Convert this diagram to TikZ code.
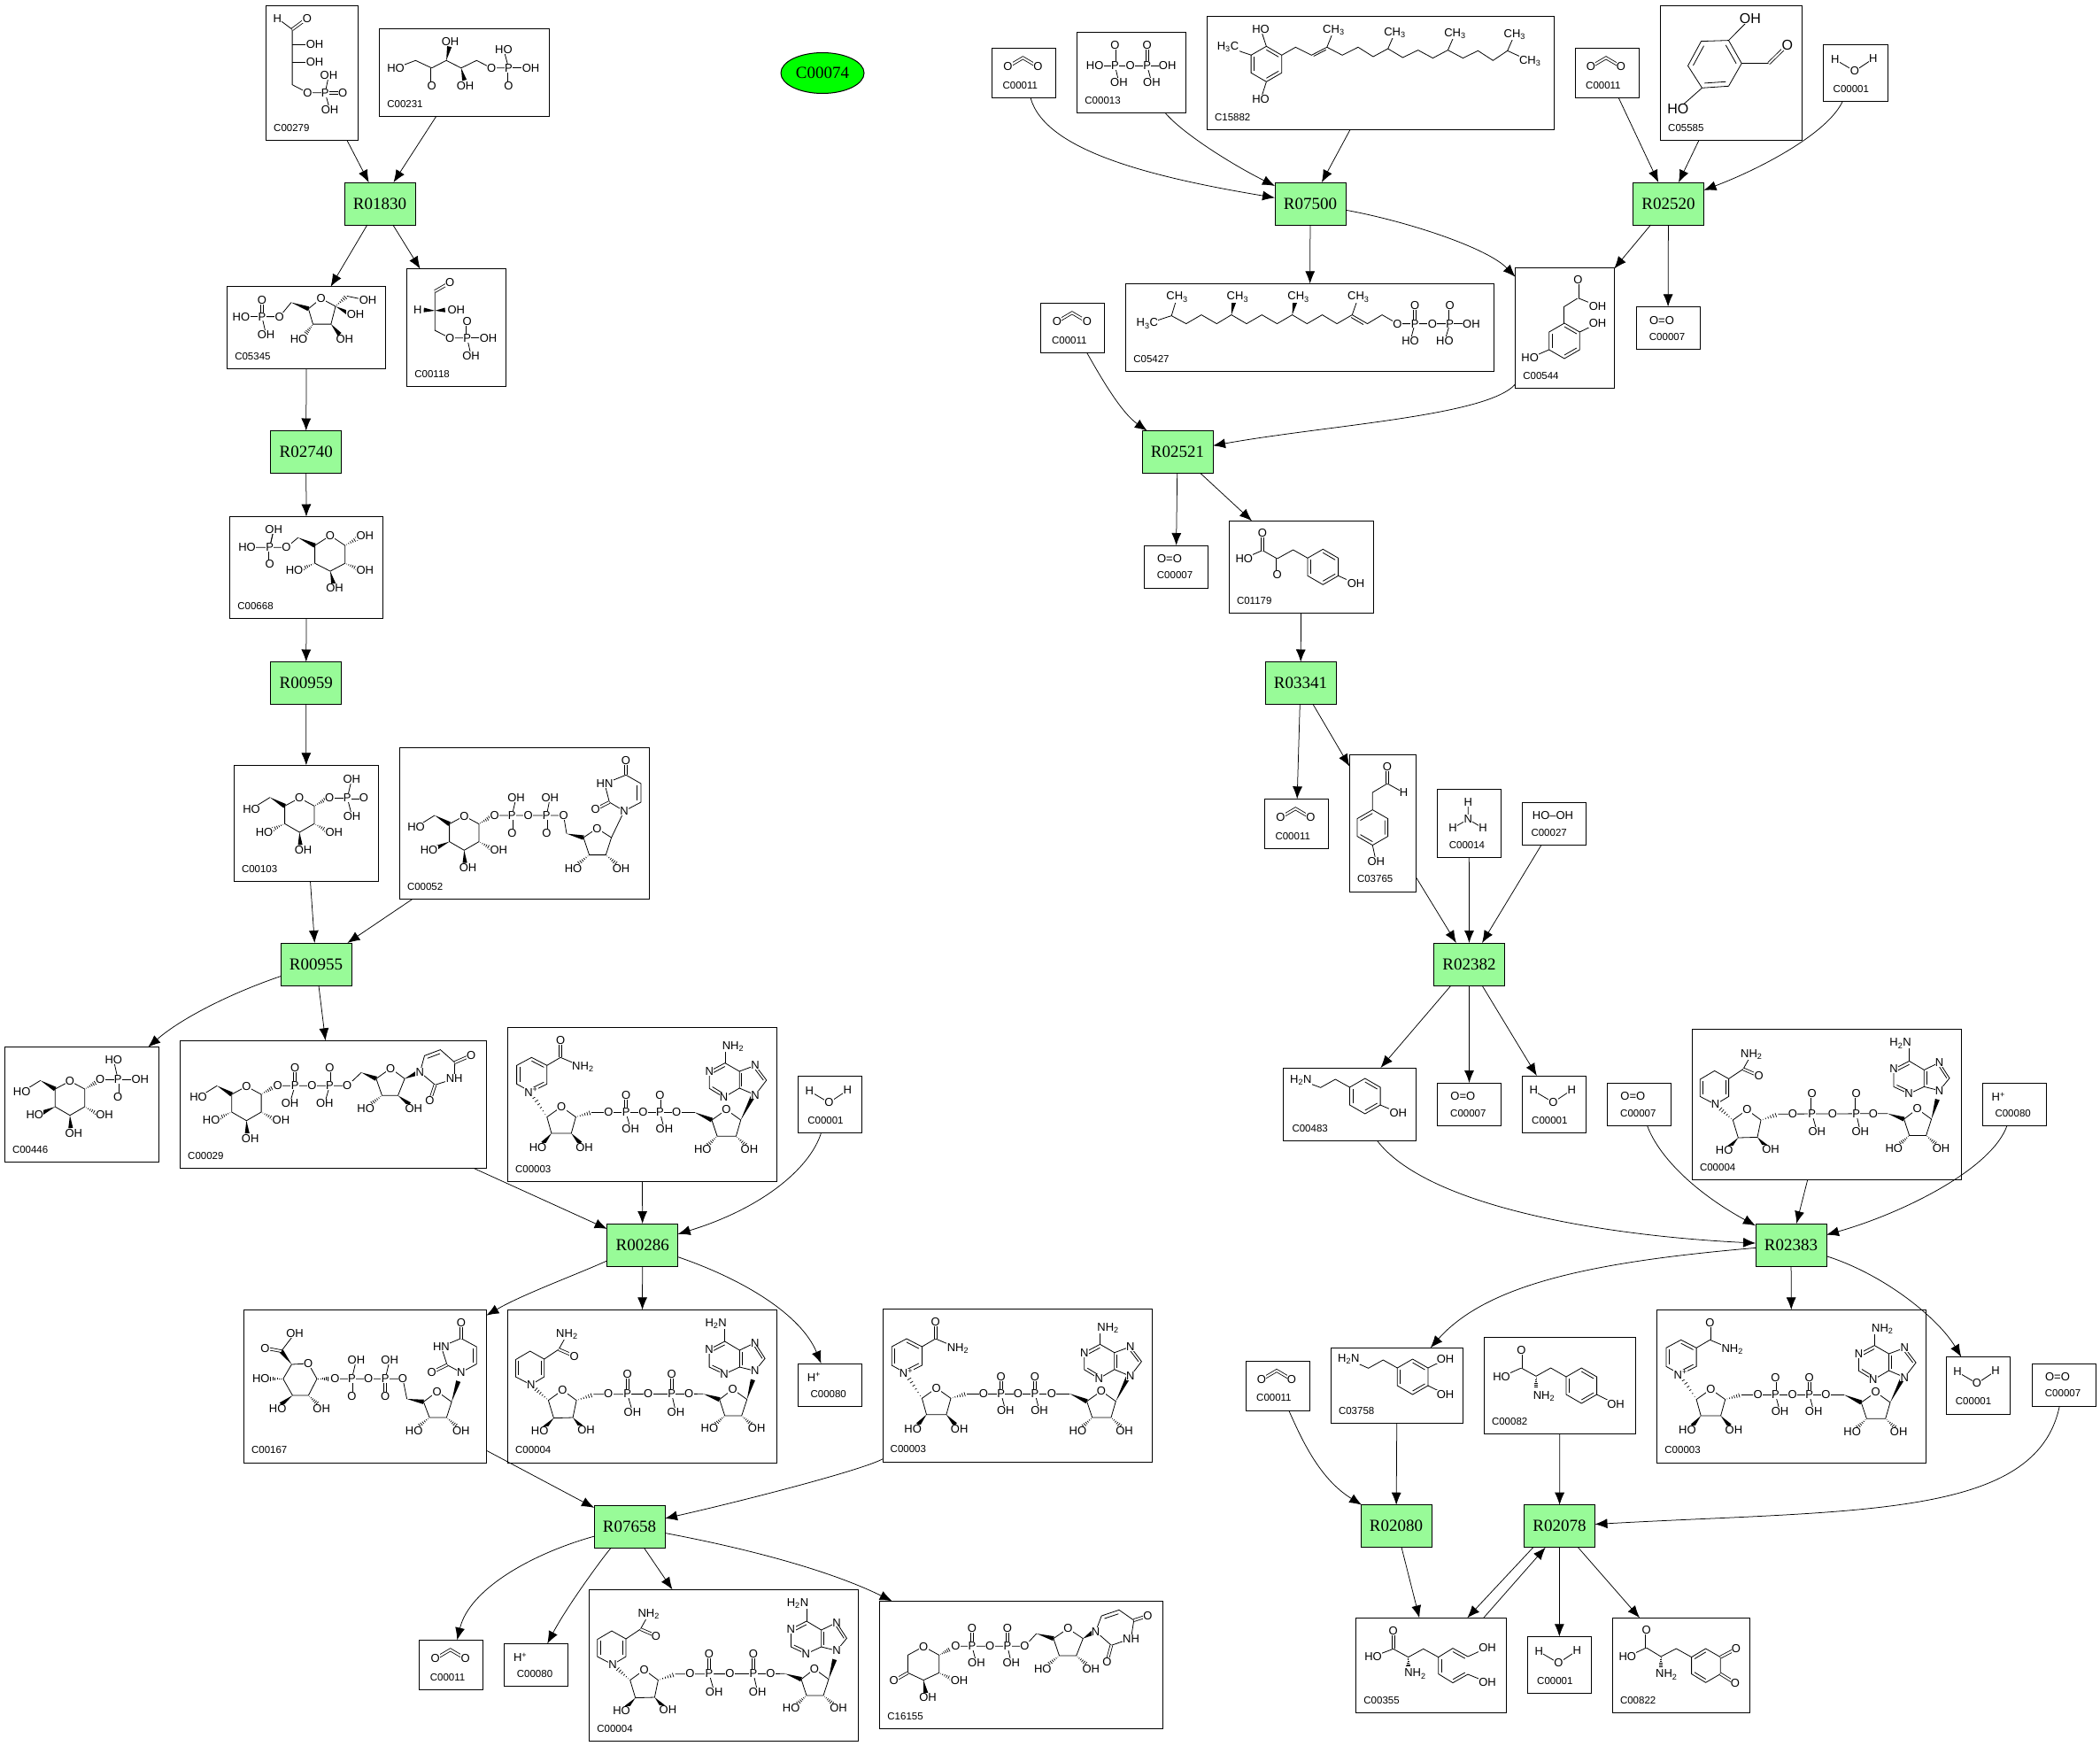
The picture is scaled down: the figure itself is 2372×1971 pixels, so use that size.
\documentclass[tikz,border=0pt]{standalone}
\usepackage{fontspec}
\setmainfont{Liberation Sans}
\newfontfamily\rfont{Liberation Serif}
\usetikzlibrary{arrows.meta,calc,shapes.geometric}
\definecolor{rgreen}{RGB}{152,251,152}
\definecolor{cgreen}{RGB}{0,255,0}
\newcounter{atm}
\newcommand{\lrg}{\fontsize{16}{16}\selectfont}
\tikzset{
  rnode/.style={draw,fill=rgreen,line width=1pt,outer sep=0pt,minimum width=80pt,minimum height=48pt,inner sep=0pt,font=\rfont\fontsize{19}{19}\selectfont},
  cpd/.style={draw,line width=1pt,outer sep=0pt,inner sep=0pt},
  cid/.style={anchor=west,inner sep=0pt,font=\fontsize{11.5}{12}\selectfont},
  atom/.style={fill=white,inner sep=0.4pt,font=\fontsize{13}{13}\selectfont},
  bond/.style={line width=0.8pt},
  dbond/.style={line width=0.8pt,double,double distance=2pt},
  link/.style={line width=0.75pt,-{Latex[length=14pt,width=11pt]}}
}
% atoms and bonds, in the box's own coordinates
\newcommand{\atm}[3]{\stepcounter{atm}\node[atom] (atm\theatm) at (#1,#2) {#3};}
\newcommand{\wdg}[4]{\fill ($(#3,#4)!2.6pt!90:(#1,#2)$) -- (#1,#2) -- ($(#3,#4)!2.6pt!-90:(#1,#2)$) -- cycle;}
\newcommand{\hsh}[4]{\foreach \t in {.12,.27,.42,.57,.72,.87} \draw[line width=0.7pt] ($(#1,#2)!\t!(#3,#4)!\t*2.8pt!90:(#3,#4)$) -- ($(#1,#2)!\t!(#3,#4)!\t*2.8pt!-90:(#3,#4)$);}
\newcommand{\dbl}[6]{\draw[bond] ($(#1,#2)!.2!(#5,#6)$) -- ($(#3,#4)!.2!(#5,#6)$);}
\newcommand{\pgrp}[6]{\draw[dbond] (#1,#2) -- (#3,#4); \draw[bond] (#1,#2) -- (#5,#6); \atm{#1}{#2}{P}\atm{#3}{#4}{O}\atm{#5}{#6}{OH}}
\newcommand{\benzene}[3]{\begin{scope}[shift={(#1,#2)},rotate=#3]
  \draw[bond] (0,-20) -- (17.3,-10) -- (17.3,10) -- (0,20) -- (-17.3,10) -- (-17.3,-10) -- cycle;
  \dbl{0}{-20}{17.3}{-10}{0}{0}\dbl{17.3}{10}{0}{20}{0}{0}\dbl{-17.3}{10}{-17.3}{-10}{0}{0}
  \end{scope}}
\newcommand{\pyran}[3]{\begin{scope}[shift={(#1,#2)}]
  \draw[bond] (0,0) -- (16.7,-9) -- (33.4,0) -- (33.4,20) -- (16.7,29.7) -- (0,20) -- cycle;
  \draw[bond] (-16.6,-9.7) -- (-37,3);
  \wdg{-16.6}{-9.7}{0}{0}
  \wdg{16.7}{29.7}{17.5}{44}
  #3{0}{20}{-15}{27}
  \hsh{33.4}{20}{48}{28}
  \hsh{33.4}{0}{47}{-8}
  \atm{16.7}{-9}{O}\atm{-37.6}{3.3}{HO}\atm{-23}{29.3}{HO}\atm{21}{49.7}{OH}\atm{55.7}{29.3}{OH}
  \end{scope}}
\newcommand{\compound}[8][8.5]{
  \pgfmathsetmacro\bw{#6-#4}\pgfmathsetmacro\bh{#7-#5}
  \node[cpd,minimum width=\bw pt,minimum height=\bh pt] (#2) at ({(#4+#6)/2},{(#5+#7)/2}) {};
  \pic at (#4,#5) {#8};
  \node[cid] (#2id) at ({#4+#1},{#7-14}) {#3};
}
\tikzset{
  mco2/.pic={\draw[dbond] (18,21) -- (35,11) -- (52,21); \atm{18}{21}{O}\atm{52}{21}{O}},
  mwater/.pic={\draw[bond] (13,17) -- (35,30) -- (56,16); \atm{13}{16.5}{H}\atm{35}{30}{O}\atm{56}{16}{H}},
  mox/.pic={\atm{29}{15.3}{O=O}},
  mprot/.pic={\atm{18}{15.3}{H\textsuperscript{+}}},
  mammo/.pic={\draw[bond] (35,14.7) -- (35,34) -- (17.7,44); \draw[bond] (35,34) -- (51.7,44); \atm{35}{14.7}{H}\atm{35}{34}{N}\atm{17.7}{44}{H}\atm{51.7}{44}{H}},
  mperox/.pic={\atm{34.7}{14.7}{HO--OH}},
  m279/.pic={
    \draw[bond] (12.8,14.7) -- (29.6,27.2) -- (29.6,89.7) -- (47,98.7) -- (66.8,98.7);
    \draw[bond] (29.6,44.6) -- (55,44.6);
    \draw[bond] (29.6,64.3) -- (55,64.3);
    \draw[bond] (66.8,98.7) -- (72,117.9);
    \draw[dbond] (29.6,27.2) -- (46.4,14.7);
    \atm{12.8}{14.7}{H}\atm{46.4}{14.7}{O}\atm{55}{43.8}{OH}\atm{55}{63.8}{OH}\atm{47}{98.7}{O}\atm{72}{117.9}{OH}
    \pgrp{66.8}{98.7}{86.7}{98.7}{70.9}{79}},
  m231/.pic={
    \draw[bond] (18.4,44.2) -- (40.8,35.7) -- (59,44.2) -- (75.5,35.7) -- (92.3,44.2) -- (109.7,35.7) -- (126.5,44.2) -- (145.9,44.2);
    \draw[dbond] (59,44.2) -- (59,64.3);
    \wdg{75.5}{35.7}{79}{20}\wdg{92.3}{44.2}{96}{58}
    \draw[bond] (145.9,44.2) -- (140.3,23.2);
    \atm{18.4}{44.2}{HO}\atm{59}{64.3}{O}\atm{80}{14.3}{OH}\atm{96.9}{64.3}{OH}\atm{126.5}{44.2}{O}\atm{140.3}{23.2}{HO}
    \pgrp{145.9}{44.2}{145.9}{64.3}{170.9}{44.2}},
  m5345/.pic={
    \draw[bond] (39.3,33.9) -- (59.2,33.9) -- (72.4,17.9);
    \draw[bond] (15.8,33.9) -- (39.3,33.9);
    \wdg{72.4}{17.9}{91.8}{25}
    \draw[bond] (91.8,25) -- (106,13.4) -- (122.4,22.3) -- (117.3,42.4) -- (96.9,42.4) -- cycle;
    \hsh{122.4}{22.3}{135.2}{10.7}
    \draw[bond] (135.2,10.7) -- (159,15.6);
    \wdg{122.4}{22.3}{137}{30}\hsh{96.9}{42.4}{88}{54}\wdg{117.3}{42.4}{127}{54}
    \atm{15.8}{33.9}{HO}\atm{59.2}{33.9}{O}\atm{106}{13.4}{O}\atm{159}{15.6}{OH}\atm{144.9}{31.7}{OH}\atm{81}{59.8}{HO}\atm{132.7}{59.8}{OH}
    \pgrp{39.3}{33.9}{39.3}{15.2}{43.9}{54}},
  m118/.pic={
    \draw[bond] (31.6,25.4) -- (31.6,69.6) -- (48.5,78.1) -- (67.9,78.1);
    \draw[dbond] (31.6,25.4) -- (48.5,15.6);
    \draw[bond] (67.9,78.1) -- (91.8,78.1);
    \wdg{31.6}{47.3}{19}{46.5}\wdg{31.6}{47.3}{43}{46.5}
    \atm{48.5}{15.6}{O}\atm{12.2}{46.4}{H}\atm{55.6}{46.4}{OH}\atm{48.5}{78.1}{O}\atm{91.8}{78.1}{OH}
    \pgrp{67.9}{78.1}{67.9}{59.4}{72.4}{98.2}},
  m668/.pic={
    \draw[bond] (19.4,34.8) -- (44.9,34.8) -- (63.8,34.8) -- (77,23.7);
    \draw[bond] (44.9,34.8) -- (49.5,14.7);
    \wdg{77}{23.7}{95.9}{32.6}
    \draw[bond] (95.9,32.6) -- (113.3,21.4) -- (130.1,32.6) -- (130.1,52.7) -- (113.3,61.6) -- (95.9,52.7) -- cycle;
    \hsh{130.1}{32.6}{145}{24}\hsh{130.1}{52.7}{145}{59}\wdg{113.3}{61.6}{117}{76}\hsh{95.9}{52.7}{81}{59}
    \atm{19.4}{34.8}{HO}\atm{63.8}{34.8}{O}\atm{113.3}{21.4}{O}\atm{152.6}{21.4}{OH}\atm{152.6}{60.7}{OH}\atm{118.4}{80.4}{OH}\atm{72.9}{60.7}{HO}
    \pgrp{44.9}{34.8}{44.9}{54}{49.5}{14.7}},
  m103/.pic={
    \pyran{57.3}{46}{\hsh}
    \draw[bond] (108,37) -- (128,37);
    \draw[bond] (128,37) -- (133.3,57.3);
    \atm{108}{37}{O}\atm{133.3}{57.3}{OH}
    \pgrp{128}{37}{146.7}{37}{133}{15.7}},
  m446/.pic={
    \pyran{57}{47.3}{\wdg}
    \draw[bond] (108,36.7) -- (128,36.7) -- (153,36.7);
    \draw[bond] (128,36.7) -- (123,14.3);
    \draw[dbond] (128,36.7) -- (128,56.3);
    \atm{108}{36.7}{O}\atm{153}{36.7}{OH}\atm{123}{14.3}{HO}\atm{128}{36.7}{P}\atm{128}{56.3}{O}},
  m52/.pic={
    \pyran{56.3}{86.3}{\wdg}
    \draw[bond] (107.3,76.7) -- (185.3,76.7) -- (188.7,97.3);
    \wdg{188.7}{97.3}{207.7}{101.7}
    \draw[bond] (207.7,101.7) -- (223,91.3) -- (239.3,101.7) -- (233,121.3) -- (214.3,121.3) -- cycle;
    \hsh{214.3}{121.3}{201}{132}\hsh{233}{121.3}{246}{132}
    \draw[bond] (239.3,101.7) -- (253.7,71.7);
    \draw[bond] (253.7,71.7) -- (237,61.7) -- (231.7,40.7) -- (255.7,31) -- (272.7,40.7) -- (272.7,61.7) -- cycle;
    \dbl{272.7}{40.7}{272.7}{61.7}{250}{50}
    \draw[dbond] (237,61.7) -- (221.3,69.7);
    \draw[dbond] (255.7,31) -- (255.7,14.7);
    \atm{107.3}{76.7}{O}\atm{145.3}{76.7}{O}\atm{185.3}{76.7}{O}\atm{223}{91.3}{O}\atm{196.3}{136.7}{HO}\atm{250.3}{136.7}{OH}
    \atm{253.7}{71.7}{N}\atm{221.3}{69.7}{O}\atm{231.7}{40.7}{HN}\atm{255.7}{14.7}{O}
    \pgrp{127}{76.7}{127}{96.7}{131.7}{56.7}\pgrp{166}{76.7}{166}{96.7}{170}{56.7}},
  m29/.pic={
    \pyran{58.2}{60.7}{\hsh}
    \draw[bond] (110.2,51) -- (188.8,51) -- (204.6,36);
    \wdg{204.6}{36}{221.4}{43}
    \draw[bond] (221.4,43) -- (237.8,31.3) -- (253.6,43) -- (246,62) -- (228,62) -- cycle;
    \hsh{228}{62}{215}{72}\wdg{246}{62}{259}{72}\wdg{253.6}{43}{267}{37}
    \draw[bond] (270.9,35.7) -- (276,17) -- (293.9,10.3) -- (310.2,24.7) -- (309.7,43) -- (288,50) -- cycle;
    \dbl{276}{17}{293.9}{10.3}{292}{32}
    \draw[dbond] (310.2,24.7) -- (328.6,16.7);
    \draw[dbond] (288,50) -- (282,68);
    \atm{110.2}{51}{O}\atm{149}{51}{O}\atm{188.8}{51}{O}\atm{237.8}{31.3}{O}\atm{209.7}{76.7}{HO}\atm{263.8}{76.7}{OH}
    \atm{270.9}{35.7}{N}\atm{309.7}{43}{NH}\atm{328.6}{16.7}{O}\atm{282}{68}{O}
    \pgrp{129.6}{51}{129.6}{31}{124}{70.3}\pgrp{168.9}{51}{168.9}{31}{163.3}{70.3}},
  m16155/.pic={
    \draw[bond] (49.4,51.3) -- (67,61) -- (67,81) -- (49.4,89.3) -- (31.8,81) -- (31.8,61) -- cycle;
    \draw[dbond] (31.8,81) -- (15.9,90);
    \hsh{67}{81}{82}{88}\wdg{49.4}{89.3}{52}{104}\hsh{67}{61}{80}{54}
    \draw[bond] (85.6,51) -- (163.8,51) -- (177,36.7);
    \wdg{177}{36.7}{196.2}{42.3}
    \draw[bond] (196.2,42.3) -- (212.6,31) -- (229.6,42.3) -- (222,61.7) -- (202.8,61.7) -- cycle;
    \hsh{202.8}{61.7}{190}{72}\hsh{222}{61.7}{234}{72}\wdg{229.6}{42.3}{240}{36}
    \draw[bond] (243.9,34.3) -- (250.5,16.7) -- (270.3,10) -- (287,21.7) -- (283.8,42.3) -- (261.6,50) -- cycle;
    \dbl{250.5}{16.7}{270.3}{10}{267}{32}
    \draw[dbond] (287,21.7) -- (302.6,16.7);
    \draw[dbond] (261.6,50) -- (256.7,68.3);
    \atm{49.4}{51.3}{O}\atm{15.9}{90}{O}\atm{89.9}{90}{OH}\atm{54.3}{109}{OH}\atm{85.6}{51}{O}\atm{124.5}{51}{O}\atm{163.8}{51}{O}
    \atm{212.6}{31}{O}\atm{184.1}{77}{HO}\atm{238.6}{77}{OH}\atm{243.9}{34.3}{N}\atm{283.8}{42.3}{NH}\atm{302.6}{16.7}{O}\atm{256.7}{68.3}{O}
    \pgrp{104.2}{51}{104.2}{30.7}{109.2}{70}\pgrp{144.2}{51}{144.2}{30.7}{148.6}{70}},
  m167/.pic={
    \draw[bond] (44.4,78) -- (54,61.7) -- (72.9,60.7) -- (82.6,78) -- (73,96.7) -- (55,96.7) -- cycle;
    \wdg{54}{61.7}{42.3}{46.7}
    \draw[bond] (42.3,46.7) -- (57.6,26.7);
    \draw[dbond] (42.3,46.7) -- (24,43.3);
    \hsh{44.4}{78}{28}{78}\wdg{55}{96.7}{42}{107}\hsh{73}{96.7}{84}{107}\hsh{82.6}{78}{97}{78}
    \draw[bond] (103,78) -- (179.6,78) -- (184.2,100.7);
    \wdg{184.2}{100.7}{203}{104}
    \draw[bond] (203,104) -- (218.4,92.3) -- (234.7,104) -- (229,121.7) -- (209.7,121.7) -- cycle;
    \hsh{209.7}{121.7}{197}{132}\hsh{229}{121.7}{241}{132}\wdg{234.7}{104}{242.3}{80.7}
    \draw[bond] (245.4,70.7) -- (229.6,62.3) -- (223,41.7) -- (245.4,32.3) -- (262.8,41.7) -- (262.8,61.3) -- cycle;
    \dbl{262.8}{41.7}{262.8}{61.3}{245}{52}
    \draw[dbond] (245.4,32.3) -- (245.4,14.7);
    \draw[dbond] (229.6,62.3) -- (212.2,70.7);
    \atm{57.6}{26.7}{OH}\atm{24}{43.3}{O}\atm{72.9}{60.7}{O}\atm{19.4}{78}{HO}\atm{38.3}{111.7}{HO}\atm{87.8}{111.7}{OH}\atm{103}{78}{O}\atm{140.8}{78}{O}\atm{179.6}{78}{O}
    \atm{218.4}{92.3}{O}\atm{192.3}{136.7}{HO}\atm{245.4}{136.7}{OH}\atm{245.4}{70.7}{N}\atm{223}{41.7}{HN}\atm{245.4}{14.7}{O}\atm{212.2}{70.7}{O}
    \pgrp{122}{78}{122}{97.3}{127}{56.7}\pgrp{159.7}{78}{159.7}{97.3}{164.8}{56.7}},
  mnad/.pic={
    \draw[bond] (27,34) -- (44.4,43) -- (44.4,64) -- (26.5,73) -- (10.2,64) -- (10.2,43) -- cycle;
    \dbl{10.2}{43}{10.2}{64}{27}{53.5}\dbl{27}{34}{44.4}{43}{27}{53.5}\dbl{44.4}{64}{26.5}{73}{27}{53.5}
    \draw[bond] (44.4,43) -- (59.7,34) -- (85,44.7);
    \draw[dbond] (59.7,34) -- (59.7,15);
    \hsh{44.4}{101.3}{28}{76}
    \draw[bond] (44.4,101.3) -- (60.7,89.7) -- (77,101.3) -- (71.9,119.7) -- (49.5,119.7) -- cycle;
    \wdg{49.5}{119.7}{40}{131}\wdg{71.9}{119.7}{82}{131}\hsh{77}{101.3}{95}{96}
    \draw[bond] (95,96) -- (211.2,96);
    \wdg{211.2}{96}{230.6}{104.7}
    \draw[bond] (230.6,104.7) -- (247,93) -- (263.3,104.7) -- (258,123) -- (236.7,123) -- cycle;
    \hsh{236.7}{123}{225}{134}\hsh{258}{123}{270}{134}\wdg{263.3}{104.7}{277}{78}
    \draw[bond] (279.7,76.3) -- (261.8,68.7) -- (261.8,49.7) -- (279.7,43) -- (292.4,59.7) -- cycle;
    \draw[bond] (261.8,49.7) -- (245.5,40.3) -- (227.8,49.7) -- (227.8,69) -- (244.2,79) -- (261.8,68.7);
    \draw[bond] (245.5,40.3) -- (245.5,22);
    \dbl{261.8}{49.7}{261.8}{68.7}{275}{60}\dbl{279.7}{43}{292.4}{59.7}{275}{60}\dbl{245.5}{40.3}{227.8}{49.7}{245}{60}\dbl{227.8}{69}{244.2}{79}{245}{60}
    \atm{59.7}{15}{O}\atm{85}{44.7}{NH\textsubscript{2}}\atm{26.5}{73}{N\textsuperscript{+}}\atm{60.7}{89.7}{O}\atm{34.2}{135.7}{HO}\atm{86.7}{135.7}{OH}
    \atm{114}{96}{O}\atm{153}{96}{O}\atm{190.8}{96}{O}\atm{247}{93}{O}\atm{220.4}{138}{HO}\atm{273}{138}{OH}
    \atm{254.6}{22}{NH\textsubscript{2}}\atm{279.7}{43}{N}\atm{279.7}{76.3}{N}\atm{227.8}{49.7}{N}\atm{244.2}{79}{N}
    \pgrp{133.7}{96}{133.7}{77}{138.8}{115}\pgrp{172}{96}{172}{77}{177}{115}},
  mnadh/.pic={
    \draw[bond] (25.3,46.7) -- (41.3,55.7) -- (41.3,75.7) -- (26.3,84.7) -- (9,75.7) -- (9,56.3) -- cycle;
    \dbl{41.3}{55.7}{41.3}{75.7}{25}{65}\dbl{9}{56.3}{9}{75.7}{25}{65}
    \draw[bond] (41.3,55.7) -- (57.7,44.7) -- (67,28);
    \draw[dbond] (57.7,44.7) -- (75.3,52.3);
    \hsh{46}{102.3}{30}{88}
    \draw[bond] (46,102.3) -- (62,90.7) -- (77.7,102.3) -- (73.7,121.7) -- (52,122.3) -- cycle;
    \wdg{52}{122.3}{42}{133}\wdg{73.7}{121.7}{83}{132}\hsh{77.7}{102.3}{97}{95.7}
    \draw[bond] (97,95.5) -- (221,95);
    \wdg{221}{95}{239.3}{101.3}
    \draw[bond] (239.3,101.3) -- (254.3,89.7) -- (270.3,101.3) -- (264.3,119.7) -- (245.3,119.7) -- cycle;
    \hsh{245.3}{119.7}{234}{130}\hsh{264.3}{119.7}{276}{130}\wdg{270.3}{101.3}{277}{79}
    \draw[bond] (279.3,69) -- (262,64.7) -- (262,45.7) -- (279.3,37.3) -- (290.7,55) -- cycle;
    \draw[bond] (262,45.7) -- (245.3,35.7) -- (227.7,44.7) -- (227.7,64.7) -- (244.7,72.7) -- (262,64.7);
    \draw[bond] (245.3,35.7) -- (245.3,20.7);
    \dbl{262}{45.7}{262}{64.7}{275}{55}\dbl{279.3}{37.3}{290.7}{55}{275}{55}\dbl{245.3}{35.7}{227.7}{44.7}{245}{55}\dbl{227.7}{64.7}{244.7}{72.7}{245}{55}
    \atm{67}{28}{NH\textsubscript{2}}\atm{75.3}{52.3}{O}\atm{26.3}{84.7}{N}\atm{62}{90.7}{O}\atm{36.3}{136.3}{HO}\atm{88.7}{135.7}{OH}
    \atm{113.7}{95}{O}\atm{158.7}{95}{O}\atm{204.7}{95}{O}\atm{254.3}{89.7}{O}\atm{228}{134}{HO}\atm{281.3}{134}{OH}
    \atm{235.3}{15.7}{H\textsubscript{2}N}\atm{227.7}{44.7}{N}\atm{244.7}{72.7}{N}\atm{279.3}{37.3}{N}\atm{279.3}{69}{N}
    \pgrp{135.3}{95}{135.3}{72.3}{141}{115.3}\pgrp{185.3}{95}{185.3}{72.3}{190}{115.7}},
  m15882/.pic={
    \benzene{67}{54}{0}
    \draw[bond] (67,34) -- (60.6,14.7);
    \draw[bond] (50,44) -- (23.6,35);
    \draw[bond] (67,74) -- (60.6,94);
    \draw[bond] (84.3,44) -- (100,35) -- (118,44) -- (135.4,35) -- (152.7,44) -- (170.6,35) -- (187.6,45.7) -- (204.3,36.7) -- (221,46.7) -- (238.3,38.3) -- (255,47.3) -- (272,38.3) -- (289,47.3) -- (306,39) -- (323,50) -- (339.3,39) -- (364.8,50.7);
    \dbl{118}{44}{135.4}{35}{130}{50}
    \draw[bond] (135.4,35) -- (143,16);
    \draw[bond] (204.3,36.7) -- (212,19);
    \draw[bond] (272,38.3) -- (280,20);
    \draw[bond] (339.3,39) -- (347.4,20.7);
    \atm{60.6}{14.7}{HO}\atm{23.6}{35}{H\textsubscript{3}C}\atm{60.6}{94}{HO}\atm{143}{16}{CH\textsubscript{3}}\atm{212}{19}{CH\textsubscript{3}}\atm{280}{20}{CH\textsubscript{3}}\atm{347.4}{20.7}{CH\textsubscript{3}}\atm{364.8}{50.7}{CH\textsubscript{3}}},
  m5427/.pic={
    \draw[bond] (24.2,45.3) -- (51.6,36.3) -- (68.2,45.3) -- (85.4,35.3) -- (102.7,45.3) -- (119.3,35.3) -- (136.4,45.3) -- (153.7,35.3) -- (170.9,45.3) -- (188,35.3) -- (204.7,45.3) -- (221.9,35.3) -- (238.5,45.3) -- (255.7,35.3) -- (272.9,45.3) -- (289.5,35.3) -- (306.8,45.3) -- (366,45.3);
    \draw[bond] (51.6,36.3) -- (58,15.3);
    \wdg{119.3}{35.3}{122}{21}\wdg{188}{35.3}{191}{21}
    \draw[bond] (255.7,35.3) -- (262.7,15.3);
    \dbl{255.7}{35.3}{272.9}{45.3}{250}{50}
    \draw[bond] (366,45.3) -- (390.3,45.3);
    \atm{58}{15.3}{CH\textsubscript{3}}\atm{24.2}{45.3}{H\textsubscript{3}C}\atm{126.3}{15.3}{CH\textsubscript{3}}\atm{195}{15.3}{CH\textsubscript{3}}\atm{262.7}{15.3}{CH\textsubscript{3}}
    \atm{306.8}{45.3}{O}\atm{346.3}{45.3}{O}\atm{390.3}{45.3}{OH}
    \pgrp{326.5}{45.3}{326.5}{24.7}{321.4}{64.7}\atm{321.4}{64.7}{HO}\pgrp{366}{45.3}{366}{24.7}{360.3}{64.7}\atm{360.3}{64.7}{HO}},
  m13/.pic={
    \draw[bond] (20,38) -- (102,38);
    \atm{20}{38}{HO}\atm{60}{38}{O}\atm{102}{38}{OH}
    \pgrp{42.7}{38}{42.7}{14.7}{47.2}{57}\pgrp{79}{38}{79}{14.7}{84.2}{57}},
  m5585/.pic={
    \draw[bond] (46,40.3) -- (77,39.3) -- (91.7,65.3) -- (77,91) -- (47,93) -- (31,68) -- cycle;
    \dbl{46}{40.3}{31}{68}{61}{66}\dbl{77}{39.3}{91.7}{65.3}{61}{66}\dbl{77}{91}{47}{93}{61}{66}
    \draw[bond] (77,39.3) -- (101.4,14.7);
    \draw[bond] (91.7,65.3) -- (122.3,65.3);
    \draw[dbond] (122.3,65.3) -- (143.4,44.7);
    \draw[bond] (47,93) -- (19.8,117);
    \atm{101.4}{14.7}{\lrg OH}\atm{143.4}{44.7}{\lrg O}\atm{19.8}{117}{\lrg HO}},
  m544/.pic={
    \benzene{55.4}{82.7}{0}
    \draw[bond] (54.8,62.7) -- (54.8,44.3) -- (70.8,34.3) -- (93,43.3);
    \draw[dbond] (70.8,34.3) -- (70.8,13.3);
    \draw[bond] (72.7,72.7) -- (93,62.7);
    \draw[bond] (38,92.7) -- (16.6,102);
    \atm{70.8}{13.3}{O}\atm{93}{43.3}{OH}\atm{93}{62.7}{OH}\atm{16.6}{102}{HO}},
  m1179/.pic={
    \benzene{106}{52}{0}
    \draw[bond] (17,42.3) -- (37.7,33.3) -- (54.3,42.7) -- (72.3,32.7) -- (88.7,42);
    \draw[dbond] (37.7,33.3) -- (37.7,13.3);
    \draw[dbond] (54.3,42.7) -- (54.3,61);
    \draw[bond] (123.3,62) -- (143.3,71);
    \atm{37.7}{13.3}{O}\atm{17}{42.3}{HO}\atm{54.3}{61}{O}\atm{143.3}{71}{OH}},
  m3765/.pic={
    \benzene{26}{82.3}{60}
    \draw[bond] (26,62.3) -- (26,42.7) -- (42.7,32.7) -- (61.3,43);
    \draw[dbond] (42.7,32.7) -- (42.7,13.7);
    \draw[bond] (26,102.3) -- (30,121);
    \atm{42.7}{13.7}{O}\atm{61.3}{43}{H}\atm{30}{121}{OH}},
  m483/.pic={
    \benzene{92.5}{32}{0}
    \draw[bond] (20,14) -- (42.3,22.3) -- (59,13) -- (75.2,22);
    \draw[bond] (109.8,42) -- (130,50.7);
    \atm{20}{14}{H\textsubscript{2}N}\atm{130}{50.7}{OH}},
  m3758/.pic={
    \benzene{92.3}{32.7}{0}
    \draw[bond] (20,13) -- (42.3,23) -- (59,13.7) -- (75,22.7);
    \draw[bond] (109.6,22.7) -- (129.3,13);
    \draw[bond] (109.6,42.7) -- (129.3,52.3);
    \atm{20}{13}{H\textsubscript{2}N}\atm{129.3}{13}{OH}\atm{129.3}{52.3}{OH}},
  m82/.pic={
    \benzene{110}{55}{0}
    \draw[bond] (19.7,45) -- (42,35) -- (58.7,44.3) -- (75.3,35) -- (92.7,45);
    \draw[dbond] (42,35) -- (42,15);
    \hsh{58.7}{44.3}{58.7}{58}
    \draw[bond] (127.3,65) -- (148.7,75.7);
    \atm{42}{15}{O}\atm{19.7}{45}{HO}\atm{67.7}{66.7}{NH\textsubscript{2}}\atm{148.7}{75.7}{OH}},
  m355/.pic={
    \draw[bond] (19.3,43.7) -- (42,35) -- (59,44.3) -- (76,35) -- (93,44.3) -- (109.3,34.3) -- (126.3,43.7) -- (148.3,33.7);
    \draw[bond] (93,44.3) -- (93,63.3) -- (109.3,73.3) -- (126.3,63.7) -- (148.3,72.7);
    \dbl{93}{44.3}{93}{63.3}{110}{54}\dbl{109.3}{34.3}{126.3}{43.7}{110}{54}\dbl{109.3}{73.3}{126.3}{63.7}{110}{54}
    \draw[dbond] (42,35) -- (42,15);
    \hsh{59}{44.3}{59}{56}
    \atm{42}{15}{O}\atm{19.3}{43.7}{HO}\atm{66.7}{63.3}{NH\textsubscript{2}}\atm{148.3}{33.7}{OH}\atm{148.3}{72.7}{OH}},
  m822/.pic={
    \draw[bond] (17,43.7) -- (38.3,33.7) -- (54.7,43.7) -- (72,34.7) -- (89.3,44.3);
    \draw[bond] (89.3,44.3) -- (105.3,34.7) -- (122,44.3) -- (122,63.3) -- (105.3,73) -- (89.3,63.3) -- cycle;
    \dbl{89.3}{44.3}{105.3}{34.7}{106}{54}\dbl{89.3}{63.3}{105.3}{73}{106}{54}
    \draw[dbond] (38.3,33.7) -- (38.3,13.3);
    \draw[dbond] (122,44.3) -- (139.7,35);
    \draw[dbond] (122,63.3) -- (138.7,73.7);
    \hsh{54.7}{43.7}{54.7}{57}
    \atm{38.3}{13.3}{O}\atm{17}{43.7}{HO}\atm{61}{64.3}{NH\textsubscript{2}}\atm{139.7}{35}{O}\atm{138.7}{73.7}{O}}
}
\begin{document}
\begin{tikzpicture}[x=1pt,y=-1pt]
\useasboundingbox (0,0) rectangle (2372,1971);
% reactions
\node[rnode] (r1830) at (429,230) {R01830};
\node[rnode] (r2740) at (345.7,510.5) {R02740};
\node[rnode] (r959) at (345.7,771.5) {R00959};
\node[rnode] (r955) at (357,1089) {R00955};
\node[rnode] (r286) at (725.7,1406) {R00286};
\node[rnode] (r7658) at (711,1724) {R07658};
\node[rnode] (r7500) at (1480,230) {R07500};
\node[rnode] (r2520) at (1884.5,230) {R02520};
\node[rnode] (r2521) at (1330,510.5) {R02521};
\node[rnode] (r3341) at (1469,771.5) {R03341};
\node[rnode] (r2382) at (1659.5,1089) {R02382};
\node[rnode] (r2383) at (2023,1406) {R02383};
\node[rnode] (r2080) at (1577,1723.7) {R02080};
\node[rnode] (r2078) at (1761.5,1723.7) {R02078};
\node[ellipse,draw,fill=cgreen,line width=1pt,minimum width=94pt,minimum height=46pt,inner sep=0pt,font=\rfont\fontsize{19}{19}\selectfont] (c74) at (929,82.5) {C00074};
% compounds
\compound{c279}{C00279}{300.5}{6}{404.6}{158.5}{m279}
\compound{c231}{C00231}{428.6}{32.6}{620.4}{131.7}{m231}
\compound{c5345}{C05345}{256.6}{323.7}{435.7}{416.5}{m5345}
\compound{c118}{C00118}{459.7}{303.6}{571.4}{436.6}{m118}
\compound{c668}{C00668}{259.7}{583.5}{432.7}{698.7}{m668}
\compound{c103}{C00103}{264.3}{864.3}{427.7}{995.3}{m103}
\compound{c52}{C00052}{451.3}{844.3}{733.3}{1015.3}{m52}
\compound{c446}{C00446}{5.3}{1182.7}{179.3}{1312.3}{m446}
\compound{c29}{C00029}{203.5}{1175.3}{549.4}{1319.3}{m29}
\compound{c3a}{C00003}{573.4}{1160.3}{877.4}{1334.3}{mnad}
\compound[10.7]{c1b}{C00001}{901.4}{1215.3}{973.4}{1279.3}{mwater}
\compound{c167}{C00167}{275.4}{1479.3}{549.4}{1652}{m167}
\compound{c4b}{C00004}{573.4}{1479.3}{877.4}{1652}{mnadh}
\compound[14]{c80b}{C00080}{901.4}{1540}{973.4}{1588.3}{mprot}
\compound{c3b}{C00003}{997}{1478}{1301}{1651}{mnad}
\compound[12]{c11f}{C00011}{473.7}{1852.3}{545.6}{1908.3}{mco2}
\compound[14]{c80c}{C00080}{569.7}{1856.3}{641.6}{1904.3}{mprot}
\compound{c4c}{C00004}{665.7}{1795.3}{969}{1966.3}{mnadh}
\compound{c16155}{C16155}{993.7}{1808.3}{1313.6}{1952.3}{m16155}
\compound[12]{c11a}{C00011}{1120.4}{54.3}{1192.5}{110.3}{mco2}
\compound{c13}{C00013}{1216.7}{36.3}{1339}{127.3}{m13}
\compound{c15882}{C15882}{1363.4}{18.3}{1755.6}{146.3}{m15882}
\compound[12]{c11b}{C00011}{1779}{54.3}{1851}{110.3}{mco2}
\compound{c5585}{C05585}{1875.5}{6.3}{2035.6}{158.3}{m5585}
\compound[10.7]{c1a}{C00001}{2059.8}{50.3}{2132}{114.3}{mwater}
\compound{c5427}{C05427}{1271.6}{320.3}{1687.4}{419.3}{m5427}
\compound[12]{c11c}{C00011}{1175.9}{342.3}{1247.3}{398.3}{mco2}
\compound{c544}{C00544}{1711.6}{302.3}{1823.2}{438.3}{m544}
\compound[14.7]{c7a}{C00007}{1848}{346.3}{1920}{394.3}{mox}
\compound[14.7]{c7b}{C00007}{1292}{616}{1364.6}{664}{mox}
\compound{c1179}{C01179}{1388.3}{588.3}{1551.7}{692.3}{m1179}
\compound[12]{c11d}{C00011}{1428.3}{902.3}{1500.3}{958.3}{mco2}
\compound{c3765}{C03765}{1524.3}{852.3}{1599.7}{1007}{m3765}
\compound[13.3]{c14}{C00014}{1623.3}{891.3}{1695.3}{968.3}{mammo}
\compound[10]{c27}{C00027}{1719.3}{906.3}{1791.7}{954.3}{mperox}
\compound[10]{c483}{C00483}{1449.3}{1206}{1599.3}{1288.3}{m483}
\compound[14.7]{c7c}{C00007}{1623.3}{1223}{1695.7}{1271.3}{mox}
\compound[10.7]{c1c}{C00001}{1719.3}{1215}{1791.3}{1279.3}{mwater}
\compound[14.7]{c7d}{C00007}{1815.3}{1223}{1887.7}{1271.3}{mox}
\compound{c4a}{C00004}{1911.3}{1162.7}{2215.3}{1332.3}{mnadh}
\compound[14]{c80a}{C00080}{2239.3}{1223.3}{2311.3}{1271.3}{mprot}
\compound{c3758}{C03758}{1503.3}{1522.3}{1652.7}{1607.3}{m3758}
\compound{c82}{C00082}{1676.3}{1510}{1847.7}{1619.3}{m82}
\compound{c3c}{C00003}{1871.7}{1479.3}{2175.4}{1652}{mnad}
\compound[12]{c11e}{C00011}{1407}{1537}{1479.5}{1593}{mco2}
\compound[10.7]{c1d}{C00001}{2198}{1532.5}{2270.7}{1597}{mwater}
\compound[14.7]{c7e}{C00007}{2295}{1540}{2367.5}{1588}{mox}
\compound{c355}{C00355}{1531.7}{1827.3}{1701.7}{1934.3}{m355}
\compound[10.7]{c1e}{C00001}{1725.3}{1848.3}{1797.3}{1912.3}{mwater}
\compound{c822}{C00822}{1821.3}{1827.3}{1976.3}{1934.3}{m822}
% left column
\draw[link] (c279) -- (r1830);
\draw[link] (c231) -- (r1830);
\draw[link] (r1830) -- (c5345);
\draw[link] (r1830) -- (c118);
\draw[link] (c5345) -- (r2740);
\draw[link] (r2740) -- (c668);
\draw[link] (c668) -- (r959);
\draw[link] (r959) -- (c103);
\draw[link] (c103) -- (r955);
\draw[link] (c52) -- (r955);
\draw[link] (r955) .. controls (260,1122) and (205,1150) .. (c446);
\draw[link] (r955) -- (c29);
\draw[link] (c29) -- (r286);
\draw[link] (c3a) -- (r286);
\draw[link] (c1b) .. controls (915,1320) and (860,1365) .. (r286);
\draw[link] (r286) .. controls (650,1440) and (590,1462) .. (c167);
\draw[link] (r286) -- (c4b);
\draw[link] (r286) .. controls (840,1445) and (905,1485) .. (c80b);
\draw[link] (c167) -- (r7658);
\draw[link] (c3b) .. controls (975,1660) and (840,1695) .. (r7658);
\draw[link] (r7658) .. controls (600,1755) and (530,1795) .. (c11f);
\draw[link] (r7658) .. controls (680,1760) and (640,1815) .. (c80c);
\draw[link] (r7658) -- (c4c);
\draw[link] (r7658) .. controls (850,1750) and (940,1775) .. (c16155);
% right column
\draw[link] (c11a) .. controls (1180,170) and (1300,200) .. (r7500);
\draw[link] (c13) .. controls (1335,150) and (1390,185) .. (r7500);
\draw[link] (c15882) -- (r7500);
\draw[link] (r7500) -- (c5427);
\draw[link] (r7500) .. controls (1590,250) and (1680,280) .. (c544);
\draw[link] (c11b) -- (r2520);
\draw[link] (c5585) -- (r2520);
\draw[link] (c1a) .. controls (2065,150) and (1990,190) .. (r2520);
\draw[link] (r2520) -- (c544);
\draw[link] (r2520) -- (c7a);
\draw[link] (c11c) .. controls (1240,420) and (1265,465) .. (r2521);
\draw[link] (c544) .. controls (1680,470) and (1500,480) .. (r2521);
\draw[link] (r2521) -- (c7b);
\draw[link] (r2521) -- (c1179);
\draw[link] (c1179) -- (r3341);
\draw[link] (r3341) -- (c11d);
\draw[link] (r3341) -- (c3765);
\draw[link] (c3765) -- (r2382);
\draw[link] (c14) -- (r2382);
\draw[link] (c27) -- (r2382);
\draw[link] (r2382) -- (c483);
\draw[link] (r2382) -- (c7c);
\draw[link] (r2382) -- (c1c);
\draw[link] (c483) .. controls (1610,1360) and (1800,1395) .. (r2383);
\draw[link] (c7d) .. controls (1875,1310) and (1920,1350) .. (r2383);
\draw[link] (c4a) -- (r2383);
\draw[link] (c80a) .. controls (2250,1320) and (2150,1370) .. (r2383);
\draw[link] (r2383) .. controls (1800,1425) and (1680,1450) .. (c3758);
\draw[link] (r2383) -- (c3c);
\draw[link] (r2383) .. controls (2130,1440) and (2190,1490) .. (c1d);
\draw[link] (c7e) .. controls (2300,1715) and (2100,1705) .. (r2078);
\draw[link] (c11e) .. controls (1470,1625) and (1490,1670) .. (r2080);
\draw[link] (c3758) -- (r2080);
\draw[link] (c82) -- (r2078);
\draw[link] (r2080) -- (c355);
\draw[link] ([xshift=-29.8pt]r2078.south) -- ([xshift=40.6pt]c355.north);
\draw[link] ([xshift=59pt]c355.north) -- ([xshift=-15.8pt]r2078.south);
\draw[link] (r2078) -- (c1e);
\draw[link] (r2078) -- (c822);
\end{tikzpicture}
\end{document}
